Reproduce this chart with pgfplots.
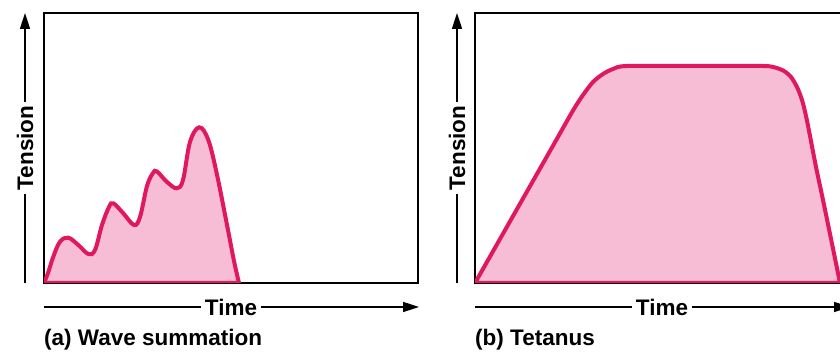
\documentclass[border=0pt]{standalone}
\usepackage{pgfplots}
\pgfplotsset{compat=1.18}
\usepackage{fontspec}
\setmainfont{Liberation Sans}
\usetikzlibrary{arrows.meta}
\definecolor{curve}{HTML}{E0185F}
\definecolor{fillpink}{HTML}{F6BDD5}
\begin{document}
\begin{tikzpicture}[x=1pt,y=1pt]
\useasboundingbox (0,0) rectangle (840,358);
\clip (0,0) rectangle (840,358);
\pgfplotsset{
  panel/.style={
    scale only axis, height=270pt,
    ymin=0, ymax=270,
    xtick=\empty, ytick=\empty,
    axis line style={line width=1.8pt, black},
    clip=true,
  }
}
% ---------- (a) wave summation
\begin{axis}[panel, at={(44pt,75pt)}, anchor=south west, width=374pt, xmin=0, xmax=374]
\addplot[smooth, tension=0.6, draw=curve, line width=4pt, fill=fillpink] coordinates {
(0,0) (4,10) (9.3,26.3) (16,41.3) (24.3,45.3) (34.3,38) (44.3,29) (51,33)
(58,58) (65,76) (69.3,79.7) (79.3,69.7) (90,58) (96,66) (103,97) (109,110) (113,111.5)
(122.7,101.3) (132.7,94.7) (139,103) (146,141) (155.3,155.7) (164.3,143)
(172.7,109.7) (182.7,59.7) (190,22) (195,0)
} \closedcycle;
\end{axis}
% ---------- (b) tetanus
\begin{axis}[panel, at={(475pt,75pt)}, anchor=south west, width=375pt, xmin=0, xmax=375]
\addplot[smooth, tension=0.45, draw=curve, line width=4pt, fill=fillpink] coordinates {
(0,0) (40,70.4) (80,140.8) (98,172.5) (108,188) (118,201) (128,209) (138,214)
(152,217) (225,217) (288,217) (300,215.5) (309,212) (316,206) (322,196) (327,183)
(331,167) (335,147) (341,116) (348,83) (355,49) (361.7,16.3) (365,0)
} \closedcycle;
\end{axis}
% ---------- annotation arrows and labels
\tikzset{ax/.style={line width=1.6pt, -{Triangle[length=16pt,width=10pt]}},
         lab/.style={font=\fontsize{22.5}{26}\selectfont\bfseries}}
\draw[ax] (25,75) -- (25,345);
\node[lab, fill=white, rotate=90, inner sep=4pt] at (25,210) {Tension};
\draw[ax] (44,51) -- (419,51);
\node[lab, fill=white, inner sep=4pt] at (231,51) {Time};
\node[lab, anchor=west, inner sep=0pt] at (44,18) {(a) Wave summation};
\draw[ax] (457,75) -- (457,345);
\node[lab, fill=white, rotate=90, inner sep=4pt] at (457,210) {Tension};
\draw[ax] (475,51) -- (850,51);
\node[lab, fill=white, inner sep=4pt] at (662,51) {Time};
\node[lab, anchor=west, inner sep=0pt] at (475,18) {(b) Tetanus};
\end{tikzpicture}
\end{document}
